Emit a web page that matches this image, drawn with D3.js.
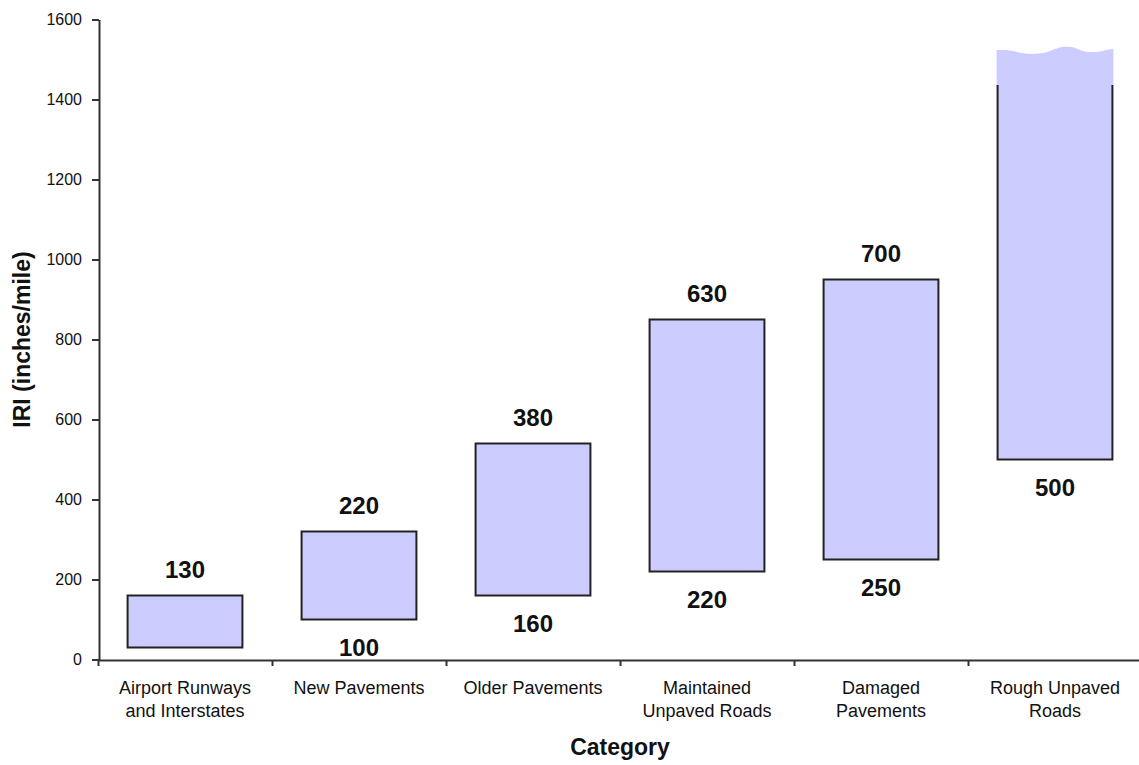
<!DOCTYPE html>
<html>
<head>
<meta charset="utf-8">
<script src="https://cdn.jsdelivr.net/npm/d3@7"></script>
<style>
  html, body { margin: 0; padding: 0; background: #fff; }
  svg { display: block; }
  text { font-family: "Liberation Sans", Arial, sans-serif; fill: #111; }
</style>
</head>
<body>
<svg id="chart" width="1139" height="765"></svg>
<script>
// ---- data ----
const categories = [
  "Airport Runways and Interstates",
  "New Pavements",
  "Older Pavements",
  "Maintained Unpaved Roads",
  "Damaged Pavements",
  "Rough Unpaved Roads"
];
const categoryLines = [
  ["Airport Runways", "and Interstates"],
  ["New Pavements"],
  ["Older Pavements"],
  ["Maintained", "Unpaved Roads"],
  ["Damaged", "Pavements"],
  ["Rough Unpaved", "Roads"]
];
const baseValues  = [30, 100, 160, 220, 250, 500];     // bottom of each IRI range
const rangeValues = [130, 220, 380, 630, 700, null];   // length of each range (last one open-ended)
const baseLabels  = [null, 100, 160, 220, 250, 500];
const openBarBorderTop = 1436;                         // where the open-ended bar's outline stops
const openBarEdge = [1524, 1524, 1521, 1516, 1514, 1515, 1518, 1526, 1532, 1531, 1524, 1519, 1519, 1523, 1527]; // ragged top
const yTicks = [0, 200, 400, 600, 800, 1000, 1200, 1400, 1600];
const yTitle = "IRI (inches/mile)";
const xTitle = "Category";

// ---- layout ----
const svg = d3.select("#chart");
const plotLeft = 98, plotRight = 1142, plotTop = 19.5, plotBottom = 659.5;

const x = d3.scaleBand()
  .domain(categories)
  .range([plotLeft, plotRight])
  .paddingInner(0.34)
  .paddingOuter(0.17);

const xBound = d3.scaleLinear().domain([0, categories.length]).range([plotLeft, plotRight]);

const y = d3.scaleLinear().domain([0, 1600]).range([plotBottom, plotTop]);

const fill = "#ccccff";
const stroke = "#222";

// ---- bars ----
const g = svg.append("g");
categories.forEach((c, i) => {
  const x0 = x(c), w = x.bandwidth();
  const b = baseValues[i];
  if (rangeValues[i] != null) {
    const t = b + rangeValues[i];
    g.append("rect")
      .attr("x", x0).attr("y", y(t))
      .attr("width", w).attr("height", y(b) - y(t))
      .attr("fill", fill).attr("stroke", stroke).attr("stroke-width", 2);
  } else {
    // open-ended bar: ragged fill above, outline on sides and bottom only
    const edgeX = d3.scaleLinear().domain([0, openBarEdge.length - 1]).range([x0 - 1, x0 + w + 1]);
    const area = d3.area()
      .x((d, k) => edgeX(k))
      .y0(y(openBarBorderTop) + 1)
      .y1(d => y(d))
      .curve(d3.curveMonotoneX);
    g.append("path").datum(openBarEdge).attr("d", area).attr("fill", fill);
    g.append("rect")
      .attr("x", x0).attr("y", y(openBarBorderTop))
      .attr("width", w).attr("height", y(b) - y(openBarBorderTop))
      .attr("fill", fill).attr("stroke", "none");
    const line = d3.line();
    g.append("path")
      .attr("d", line([[x0, y(openBarBorderTop)], [x0, y(b)], [x0 + w, y(b)], [x0 + w, y(openBarBorderTop)]]))
      .attr("fill", "none").attr("stroke", stroke).attr("stroke-width", 2);
  }
});

// ---- value labels ----
categories.forEach((c, i) => {
  const cx = x(c) + x.bandwidth() / 2;
  const b = baseValues[i];
  if (rangeValues[i] != null) {
    svg.append("text")
      .attr("x", cx).attr("y", y(b + rangeValues[i]) - 18)
      .attr("text-anchor", "middle")
      .style("font-size", "24px").style("font-weight", "bold")
      .text(rangeValues[i]);
  }
  if (baseLabels[i] != null) {
    svg.append("text")
      .attr("x", cx).attr("y", y(b) + 36)
      .attr("text-anchor", "middle")
      .style("font-size", "24px").style("font-weight", "bold")
      .text(baseLabels[i]);
  }
});

// ---- axes ----
const yAxis = d3.axisLeft(y).tickValues(yTicks).tickFormat(d3.format("d"))
  .tickSize(7).tickSizeOuter(0).tickPadding(10);
const yg = svg.append("g").attr("transform", `translate(${plotLeft + 1},0)`).call(yAxis);
yg.select(".domain").attr("stroke", "#333").attr("stroke-width", 2);
yg.selectAll(".tick line").attr("stroke", "#333").attr("stroke-width", 2);
yg.selectAll(".tick text").style("font-size", "16px").style("font-family", "'Liberation Sans', Arial, sans-serif").attr("fill", "#111");

const xAxis = d3.axisBottom(xBound).tickValues(d3.range(categories.length + 1)).tickSize(6).tickSizeOuter(0).tickFormat("");
const xg = svg.append("g").attr("transform", `translate(0,${plotBottom + 0.5})`).call(xAxis);
xg.select(".domain").attr("stroke", "#333").attr("stroke-width", 2);
xg.selectAll(".tick line").attr("stroke", "#333").attr("stroke-width", 2);

// category labels
categories.forEach((c, i) => {
  const cx = x(c) + x.bandwidth() / 2;
  const t = svg.append("text").attr("text-anchor", "middle").style("font-size", "18px");
  categoryLines[i].forEach((ln, k) => {
    t.append("tspan").attr("x", cx).attr("y", 694 + k * 23).text(ln);
  });
});

// titles
svg.append("text")
  .attr("transform", `translate(22,${(plotTop + plotBottom) / 2}) rotate(-90)`)
  .attr("text-anchor", "middle").attr("dy", "0.35em")
  .style("font-size", "23px").style("font-weight", "bold")
  .text(yTitle);

svg.append("text")
  .attr("x", (plotLeft + plotRight) / 2).attr("y", 755)
  .attr("text-anchor", "middle")
  .style("font-size", "23px").style("font-weight", "bold")
  .text(xTitle);
</script>
</body>
</html>
